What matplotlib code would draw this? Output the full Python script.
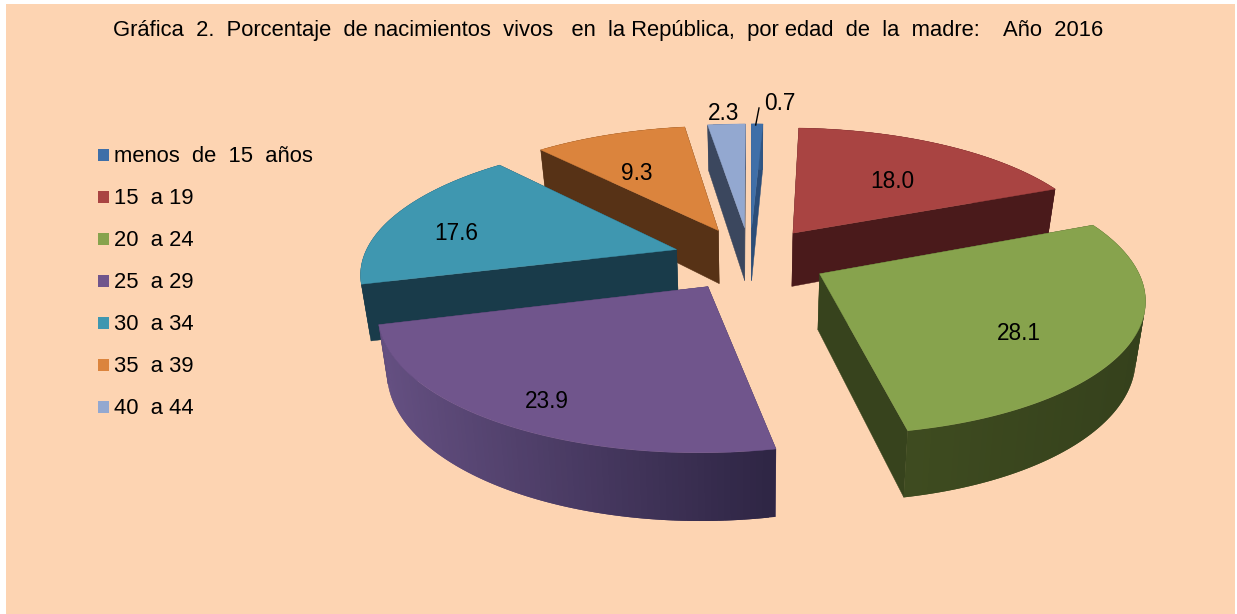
import numpy as np
import matplotlib
matplotlib.use("Agg")
import matplotlib.pyplot as plt
from matplotlib.patches import Polygon, Rectangle
from matplotlib.colors import to_rgb

plt.rcParams["font.family"] = ["Liberation Sans", "DejaVu Sans"]

title = "Gráfica  2.  Porcentaje  de nacimientos  vivos   en  la República,  por edad  de  la  madre:    Año  2016"
categories = ["menos  de  15  años", "15  a 19", "20  a 24", "25  a 29", "30  a 34", "35  a 39", "40  a 44"]
values = [0.7, 18.0, 28.1, 23.9, 17.6, 9.3, 2.3]
value_labels = ["0.7", "18.0", "28.1", "23.9", "17.6", "9.3", "2.3"]
top_colors = ["#3f6fa8", "#a94442", "#87a34d", "#70558c", "#3f97b0", "#db843d", "#93a8d0"]
wall_colors = ["#2b4d78", "#4a1a1b", "#37431d", "#3a2e55", "#193b4a", "#573216", "#3b475e"]
rim_colors = [("#3a689e", "#2b4d78"), ("#4a1a1b", "#4a1a1b"), ("#3f4c20", "#35411c"),
              ("#655082", "#2f2645"), ("#193b4a", "#193b4a"), ("#573216", "#573216"), ("#3b475e", "#3b475e")]

# pie geometry in pixels
CX, CY = 750, 258.5
R, SQUASH = 313.5, 0.413
PERSP = 0.16
EXPLODE = 0.247
DEPTH = 55
CONVERGE = 0.975


def project(u, v, drop=0.0):
    s = 1 / (1 - PERSP * v)
    x = CX + R * u * s
    if drop:
        x = CX + (x - CX) * CONVERGE
    return x, CY + R * SQUASH * v * s + drop * s


fig = plt.figure(figsize=(12.37, 6.14), dpi=100, facecolor="white")
ax = fig.add_axes([0, 0, 1, 1])
ax.set_xlim(0, 1237)
ax.set_ylim(614, 0)
ax.axis("off")
ax.add_patch(Rectangle((6, 4), 1229, 610, fc="#fdd4b2", ec="none", zorder=0))

ax.text(608.5, 30.5, title, ha="center", va="center", fontsize=15.8, color="black")

edges = np.cumsum([0] + values) / sum(values) * 2 * np.pi
wedges = []
for i in range(len(values)):
    a0, a1 = edges[i], edges[i + 1]
    mid = (a0 + a1) / 2
    wedges.append((np.cos(mid), i, a0, a1, mid))

# painter's order, back slices first
z = 1
for _, i, a0, a1, mid in sorted(wedges, key=lambda w: -w[0]):
    ou, ov = EXPLODE * np.sin(mid), -EXPLODE * np.cos(mid)
    th = np.linspace(a0, a1, max(8, int((a1 - a0) * 60)))
    u = ou + np.sin(th)
    v = ov - np.cos(th)
    rx, ry = project(u, v)
    bx, by = project(u, v, DEPTH)
    ax0, ay0 = project(ou, ov)
    bx0, by0 = project(ou, ov, DEPTH)

    walls = [
        [(ax0, ay0), (rx[0], ry[0]), (bx[0], by[0]), (bx0, by0)],
        [(ax0, ay0), (rx[-1], ry[-1]), (bx[-1], by[-1]), (bx0, by0)],
    ]
    walls.sort(key=lambda p: p[1][1] + p[2][1])
    for w in walls:
        ax.add_patch(Polygon(w, fc=wall_colors[i], ec=wall_colors[i], lw=0.3, zorder=z))
        z += 1

    # outer wall as shaded strips, each one overlaps the next so no seams show
    c0, c1 = np.array(to_rgb(rim_colors[i][0])), np.array(to_rgb(rim_colors[i][1]))
    lo, hi = rx.min(), rx.max()
    for j in reversed(range(len(th) - 1)):
        t = (rx[j] - lo) / (hi - lo)
        col = c0 + (c1 - c0) * t
        k = min(j + 3, len(th))
        upper = list(zip(rx[j:k], ry[j:k]))
        lower = list(zip(bx[j:k], by[j:k]))[::-1]
        ax.add_patch(Polygon(upper + lower, fc=col, ec="none", zorder=z))
        z += 1

    top = [(ax0, ay0)] + list(zip(rx, ry))
    ax.add_patch(Polygon(top, fc=top_colors[i], ec=top_colors[i], lw=0.3, zorder=z))
    z += 1

# value labels sit near the middle of each slice
label_pos = [(780, 104), (892, 182), (1019, 333), (547, 401), (456, 233), (637, 173), (724, 113)]
for (lx, ly), lab in zip(label_pos, value_labels):
    ax.text(lx, ly, lab, ha="center", va="center", fontsize=16.3, color="black", zorder=z + 1)
ax.plot([759, 755.7], [108, 125], color="black", lw=1, zorder=z + 1)

# legend
for k, (name, col) in enumerate(zip(categories, top_colors)):
    y = 156 + k * 42
    ax.add_patch(Rectangle((98, y - 7), 11, 12, fc=col, ec="none", zorder=z))
    ax.text(114, y + 1, name, ha="left", va="center", fontsize=15.8, color="black", zorder=z)

fig.savefig("out.png", dpi=100, facecolor="white")
